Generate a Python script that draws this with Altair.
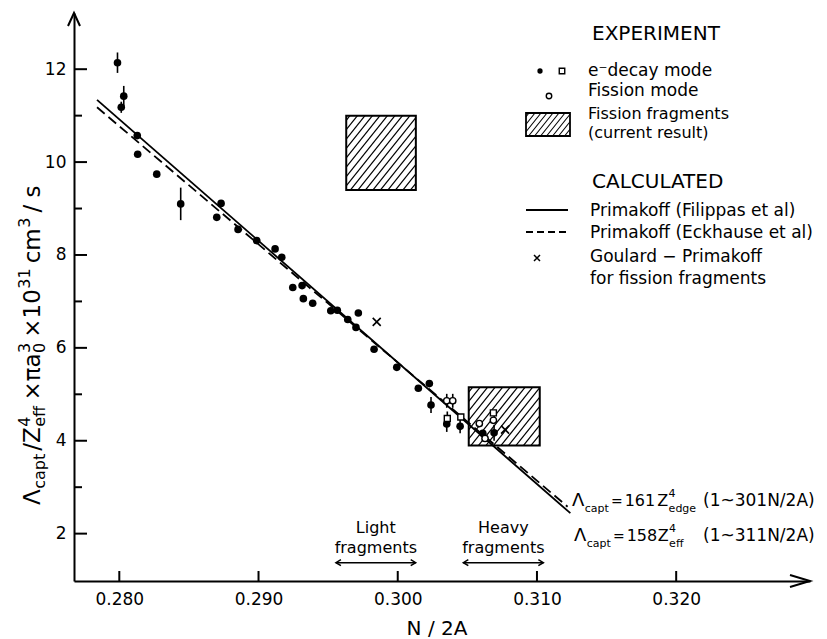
import altair as alt
import pandas as pd

# ---------------- values ----------------
# e- decay mode, filled dots (x = N/2A, y = value, symmetric error)
dot_x = [0.27987, 0.28032, 0.28014, 0.28129, 0.28132, 0.28269, 0.28441, 0.28731,
         0.28700, 0.28853, 0.28987, 0.29119, 0.29167, 0.29246, 0.29313, 0.29322,
         0.29389, 0.29519, 0.29566, 0.29641, 0.29717, 0.29700, 0.29830, 0.29993,
         0.30148, 0.30227, 0.30239, 0.30352, 0.30448, 0.30611, 0.30692]
dot_y = [12.14, 11.42, 11.18, 10.57, 10.17, 9.74, 9.10, 9.11,
         8.81, 8.55, 8.31, 8.13, 7.95, 7.30, 7.34, 7.06,
         6.96, 6.80, 6.81, 6.61, 6.75, 6.44, 5.97, 5.58,
         5.13, 5.23, 4.77, 4.36, 4.31, 4.16, 4.17]
dot_err = [0.22, 0.22, 0.12, 0, 0, 0, 0.35, 0,
           0, 0, 0, 0, 0, 0, 0, 0,
           0, 0, 0, 0, 0, 0, 0, 0,
           0, 0, 0.17, 0.17, 0.15, 0, 0.17]
# e- decay mode, open squares
sq_x = [0.30356, 0.30453, 0.30687]
sq_y = [4.48, 4.51, 4.60]
sq_err = [0.15, 0.0, 0.0]
# fission mode, open circles
ci_x = [0.30352, 0.30395, 0.30586, 0.30627, 0.30687]
ci_y = [4.86, 4.86, 4.37, 4.05, 4.44]
ci_err = [0.15, 0.15, 0.0, 0.0, 0.0]
# Goulard - Primakoff for fission fragments (crosses)
cr_x = [0.29849, 0.30771]
cr_y = [6.56, 4.24]
# calculated Primakoff lines (end points)
solid_x = [0.2784, 0.3124]
solid_y = [11.34, 2.44]
dash_x = [0.2784, 0.3122]
dash_y = [11.18, 2.58]
# fission fragment boxes (current result)
box_x0 = [0.2963, 0.3051]
box_x1 = [0.3013, 0.3102]
box_y0 = [9.40, 3.90]
box_y1 = [11.00, 5.15]
# fragment N/2A ranges
frag_top = ["Light", "Heavy"]
frag_x0 = [0.29556, 0.30471]
frag_x1 = [0.30129, 0.31046]
# axes
x_ticks = [0.280, 0.290, 0.300, 0.310, 0.320]
y_ticks = [2, 4, 6, 8, 10, 12]
y_minor = [3, 5, 7, 9, 11]
x_domain = [0.276746, 0.329612]
y_domain = [0.98, 13.21]

# ---------------- layout ----------------
W, H = 736, 568
OX, OY = 74, 13
FONT = "DejaVu Sans"
XMIN, XMAX = x_domain
YMIN, YMAX = y_domain


def to_px(x, y):
    return (x - XMIN) / (XMAX - XMIN) * W, (YMAX - y) / (YMAX - YMIN) * H


def from_px(px, py):
    return XMIN + px / W * (XMAX - XMIN), YMAX - py / H * (YMAX - YMIN)


def hatch(l, r, t, b, step=7.5, k=1.25):
    segs = []
    c = l * k + t + step * k * 0.5
    while c < r * k + b:
        xa = max(l, (c - b) / k)
        xb = min(r, (c - t) / k)
        if xb - xa > 0.4:
            segs.append((xa, c - k * xa, xb, c - k * xb))
        c += step * k
    return segs


EM = {'Λ': 0.684, 'c': 0.550, 'a': 0.613, 'p': 0.635, 't': 0.392, '/': 0.337,
      'Z': 0.685, 'e': 0.615, 'f': 0.352, '×': 0.838, 'π': 0.602, 'm': 0.974,
      's': 0.521, ' ': 0.318, '=': 0.838, 'd': 0.635, 'g': 0.635}


def tw(s, fs):
    return fs * sum(EM.get(ch, 0.636) for ch in s)


def run(pieces):
    out, pos = [], 0.0
    for text, fs, role, adv, gap in pieces:
        out.append((text, fs, role, pos))
        if adv:
            pos += tw(text, fs) + gap
    return out


xs = alt.Scale(domain=x_domain, nice=False, zero=False)
ys = alt.Scale(domain=y_domain, nice=False, zero=False)
xaxis = alt.Axis(values=x_ticks, format=".3f", ticks=False, grid=False, domainWidth=2,
                 domainColor="black", labelFont=FONT, labelFontSize=17, labelColor="black",
                 labelPadding=10, title=None, labelFlush=False)
yaxis = alt.Axis(values=y_ticks, format="d", ticks=False, grid=False, domainWidth=2,
                 domainColor="black", labelFont=FONT, labelFontSize=17, labelColor="black",
                 labelPadding=8, title=None)


def X(f):
    return alt.X(f, type="quantitative", scale=xs, axis=xaxis)


def Y(f):
    return alt.Y(f, type="quantitative", scale=ys, axis=yaxis)


def PX(f):
    return alt.X(f, type="quantitative", scale=None, axis=None)


def PY(f):
    return alt.Y(f, type="quantitative", scale=None, axis=None)


layers = []

# hatch inside the boxes
hrows = []
for a0, a1, b0, b1 in zip(box_x0, box_x1, box_y0, box_y1):
    l, t = to_px(a0, b1)
    r, b = to_px(a1, b0)
    for (u0, v0, u1, v1) in hatch(l, r, t, b):
        xa, ya = from_px(u0, v0)
        xb, yb = from_px(u1, v1)
        hrows.append({"x": xa, "y": ya, "x2": xb, "y2": yb})
layers.append(alt.Chart(pd.DataFrame(hrows)).mark_rule(color="black", strokeWidth=1.2).encode(
    x=X("x"), y=Y("y"), x2="x2", y2="y2"))
boxes = pd.DataFrame({"x0": box_x0, "x1": box_x1, "y0": box_y0, "y1": box_y1})
layers.append(alt.Chart(boxes).mark_rect(filled=False, stroke="black", strokeWidth=2).encode(
    x=X("x0"), x2="x1", y=Y("y0"), y2="y1"))

# calculated lines
layers.append(alt.Chart(pd.DataFrame({"x": solid_x, "y": solid_y})).mark_line(
    color="black", strokeWidth=1.8).encode(x=X("x"), y=Y("y")))
layers.append(alt.Chart(pd.DataFrame({"x": dash_x, "y": dash_y})).mark_line(
    color="black", strokeWidth=1.8, strokeDash=[10, 5]).encode(x=X("x"), y=Y("y")))

# error bars
erows = []
for xx, yy, ee in list(zip(dot_x, dot_y, dot_err)) + list(zip(sq_x, sq_y, sq_err)) + list(zip(ci_x, ci_y, ci_err)):
    if ee > 0:
        erows.append({"x": xx, "lo": yy - ee, "hi": yy + ee})
layers.append(alt.Chart(pd.DataFrame(erows)).mark_rule(color="black", strokeWidth=1.6).encode(
    x=X("x"), y=Y("lo"), y2="hi"))

# points
layers.append(alt.Chart(pd.DataFrame({"x": dot_x, "y": dot_y})).mark_point(
    shape="circle", filled=True, color="black", size=58, opacity=1).encode(x=X("x"), y=Y("y")))
layers.append(alt.Chart(pd.DataFrame({"x": sq_x, "y": sq_y})).mark_point(
    shape="square", filled=True, fill="white", stroke="black", strokeWidth=1.4, size=36,
    opacity=1).encode(x=X("x"), y=Y("y")))
layers.append(alt.Chart(pd.DataFrame({"x": ci_x, "y": ci_y})).mark_point(
    shape="circle", filled=True, fill="white", stroke="black", strokeWidth=1.4, size=40,
    opacity=1).encode(x=X("x"), y=Y("y")))
CROSS = "M -1 -1 L 1 1 M -1 1 L 1 -1"
layers.append(alt.Chart(pd.DataFrame({"x": cr_x, "y": cr_y})).mark_point(
    shape=CROSS, filled=False, stroke="black", strokeWidth=1.6, size=64, opacity=1).encode(
    x=X("x"), y=Y("y")))

# axis ticks drawn inward
layers.append(alt.Chart(pd.DataFrame({"v": y_ticks})).mark_rule(color="black", strokeWidth=2).encode(
    y=Y("v"), x=alt.value(0), x2=alt.value(13)))
layers.append(alt.Chart(pd.DataFrame({"v": y_minor})).mark_rule(color="black", strokeWidth=2).encode(
    y=Y("v"), x=alt.value(0), x2=alt.value(8)))
layers.append(alt.Chart(pd.DataFrame({"v": x_ticks})).mark_rule(color="black", strokeWidth=2).encode(
    x=X("v"), y=alt.value(H), y2=alt.value(H - 10)))

# axis arrowheads
layers.append(alt.Chart(pd.DataFrame({"a": [0]})).mark_point(
    shape="M -1 -0.3 L 0 0 L -1 0.3", filled=False, stroke="black", strokeWidth=2, size=1600,
    opacity=1).encode(x=alt.value(W), y=alt.value(H)))
layers.append(alt.Chart(pd.DataFrame({"a": [0]})).mark_point(
    shape="M -0.3 0.65 L 0 0 L 0.3 0.65", filled=False, stroke="black", strokeWidth=2, size=1600,
    opacity=1).encode(x=alt.value(0), y=alt.value(0)))

# fragment range arrows
frag = pd.DataFrame({"top": frag_top, "x0": frag_x0, "x1": frag_x1,
                     "xm": [(a + b) / 2 for a, b in zip(frag_x0, frag_x1)],
                     "bottom": ["fragments"] * 2})
ARROW_Y = 562.7 - OY
layers.append(alt.Chart(frag).mark_rule(color="black", strokeWidth=1.5).encode(
    x=X("x0"), x2="x1", y=alt.value(ARROW_Y)))
layers.append(alt.Chart(frag).mark_point(
    shape="M 1 -0.6 L 0 0 L 1 0.6", filled=False, stroke="black", strokeWidth=1.5, size=100,
    opacity=1).encode(x=X("x0"), y=alt.value(ARROW_Y)))
layers.append(alt.Chart(frag).mark_point(
    shape="M -1 -0.6 L 0 0 L -1 0.6", filled=False, stroke="black", strokeWidth=1.5, size=100,
    opacity=1).encode(x=X("x1"), y=alt.value(ARROW_Y)))
layers.append(alt.Chart(frag).mark_text(font=FONT, fontSize=16, align="center",
                                        baseline="alphabetic", color="black").encode(
    x=X("xm"), y=alt.value(533 - OY), text="top:N"))
layers.append(alt.Chart(frag).mark_text(font=FONT, fontSize=16, align="center",
                                        baseline="alphabetic", color="black").encode(
    x=X("xm"), y=alt.value(553 - OY), text="bottom:N"))

# ---------------- legend graphics (pixel positions) ----------------
lg_pts = pd.DataFrame({"px": [540 - OX], "py": [71 - OY]})
layers.append(alt.Chart(lg_pts).mark_point(shape="circle", filled=True, color="black", size=28,
                                           opacity=1).encode(x=PX("px"), y=PY("py")))
layers.append(alt.Chart(pd.DataFrame({"px": [562 - OX], "py": [71 - OY]})).mark_point(
    shape="square", filled=False, stroke="black", strokeWidth=1.4, size=30, opacity=1).encode(
    x=PX("px"), y=PY("py")))
layers.append(alt.Chart(pd.DataFrame({"px": [549 - OX], "py": [96 - OY]})).mark_point(
    shape="circle", filled=False, stroke="black", strokeWidth=1.4, size=30, opacity=1).encode(
    x=PX("px"), y=PY("py")))
layers.append(alt.Chart(pd.DataFrame({"px": [537 - OX], "py": [258 - OY]})).mark_point(
    shape=CROSS, filled=False, stroke="black", strokeWidth=1.5, size=36, opacity=1).encode(
    x=PX("px"), y=PY("py")))
lr = (526 - OX, 570 - OX, 113 - OY, 136 - OY)
lh = [{"x": a, "y": b, "x2": c, "y2": d} for (a, b, c, d) in hatch(*lr, step=6.0)]
layers.append(alt.Chart(pd.DataFrame(lh)).mark_rule(color="black", strokeWidth=1.1).encode(
    x=PX("x"), y=PY("y"), x2="x2", y2="y2"))
layers.append(alt.Chart(pd.DataFrame({"x": [lr[0]], "x2": [lr[1]], "y": [lr[2]], "y2": [lr[3]]})).mark_rect(
    filled=False, stroke="black", strokeWidth=1.8).encode(x=PX("x"), x2="x2", y=PY("y"), y2="y2"))
layers.append(alt.Chart(pd.DataFrame({"x": [526 - OX], "x2": [568 - OX], "y": [210 - OY]})).mark_rule(
    color="black", strokeWidth=1.8).encode(x=PX("x"), x2="x2", y=PY("y")))
layers.append(alt.Chart(pd.DataFrame({"x": [526 - OX], "x2": [568 - OX], "y": [232 - OY]})).mark_rule(
    color="black", strokeWidth=1.8, strokeDash=[7, 4]).encode(x=PX("x"), x2="x2", y=PY("y")))

# ---------------- text annotations ----------------
rows = []


def add(text, x, y, fs, ang=0):
    rows.append({"text": text, "px": x - OX, "py": y - OY, "fs": fs, "ang": ang})


add("EXPERIMENT", 592, 40, 20)
add("e⁻decay mode", 588, 76, 17)
add("Fission mode", 588, 96, 17)
add("Fission fragments", 588, 119, 16)
add("(current result)", 588, 138, 16)
add("CALCULATED", 592, 188, 20)
add("Primakoff (Filippas et al)", 590, 216, 17)
add("Primakoff (Eckhause et al)", 590, 238, 17)
add("Goulard − Primakoff", 590, 262, 17)
add("for fission fragments", 590, 284, 17)

SHIFT_H = {"b": 0, "sub": 6, "sup": -9}
f1 = [("Λ", 18, "b", 1, 0.5), ("capt", 11, "sub", 1, 2), ("=", 14, "b", 1, 2), ("161", 16, "b", 1, 2),
      ("Z", 16, "b", 1, 0.5), ("4", 11, "sup", 0, 0), ("edge", 11, "sub", 1, 0)]
for text, fs, role, pos in run(f1):
    add(text, 572 + pos, 506 + SHIFT_H[role], fs)
add("(1~301N/2A)", 703, 506, 17)
f2 = [("Λ", 18, "b", 1, 0.5), ("capt", 11, "sub", 1, 2), ("=", 14, "b", 1, 2), ("158", 16, "b", 1, 0.5),
      ("Z", 16, "b", 1, 0.5), ("4", 11, "sup", 0, 0), ("eff", 11, "sub", 1, 0)]
for text, fs, role, pos in run(f2):
    add(text, 574 + pos, 541 + SHIFT_H[role], fs)
add("(1~311N/2A)", 703, 541, 17)

# rotated y-axis title (reads bottom to top)
SHIFT_V = {"b": 0, "sub": 5, "sup": -10}
yt = [("Λ", 23, "b", 1, 0.5), ("capt", 16, "sub", 1, 3), ("/Z", 23, "b", 1, 0.5), ("4", 16, "sup", 0, 0),
      ("eff", 16, "sub", 1, 5), ("×πa", 23, "b", 1, 0.5), ("3", 16, "sup", 0, 0), ("0", 16, "sub", 1, 5),
      ("×10", 23, "b", 1, 0.5), ("31", 16, "sup", 1, 5), ("cm", 23, "b", 1, 0.5), ("3", 16, "sup", 1, 5),
      ("/ s", 23, "b", 1, 0)]
for text, fs, role, pos in run(yt):
    add(text, 40 + SHIFT_V[role], 505 - pos, fs, 270)

layers.append(alt.Chart(pd.DataFrame(rows)).mark_text(
    font=FONT, align="left", baseline="alphabetic", color="black").encode(
    x=PX("px"), y=PY("py"), text="text:N", size=alt.Size("fs:Q", scale=None),
    angle=alt.Angle("ang:Q", scale=None)))

layers.append(alt.Chart(pd.DataFrame({"t": ["N / 2A"], "px": [437 - OX], "py": [635 - OY]})).mark_text(
    font=FONT, fontSize=20, align="center", baseline="alphabetic", color="black").encode(
    x=PX("px"), y=PY("py"), text="t:N"))

chart = alt.layer(*layers).properties(
    width=W, height=H,
    autosize=alt.AutoSizeParams(type="none"),
    padding={"left": OX, "top": OY, "right": 827 - OX - W, "bottom": 639 - OY - H},
    background="white",
).configure_view(stroke=None)

chart.save("out.html", embed_options={"renderer": "svg", "actions": False})
